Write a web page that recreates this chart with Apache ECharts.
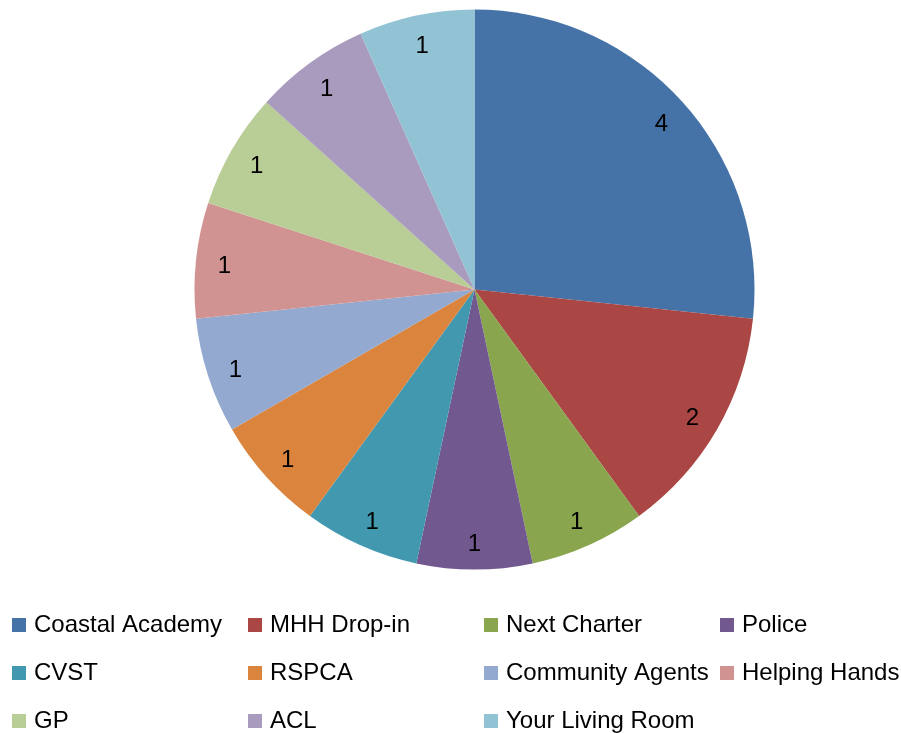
<!DOCTYPE html>
<html>
<head>
<meta charset="utf-8">
<script src="https://cdn.jsdelivr.net/npm/echarts@6/dist/echarts.min.js"></script>
<style>
  html, body { margin: 0; padding: 0; background: #fff; }
  #chart { width: 901px; height: 733px; }
</style>
</head>
<body>
<div id="chart"></div>
<script>
// Referral sources and counts
const categories = [
  'Coastal Academy', 'MHH Drop-in', 'Next Charter', 'Police', 'CVST', 'RSPCA',
  'Community Agents', 'Helping Hands', 'GP', 'ACL', 'Your Living Room'
];
const counts = [4, 2, 1, 1, 1, 1, 1, 1, 1, 1, 1];
const colors = [
  '#4572A7', '#AA4643', '#89A54E', '#71588F', '#4198AF', '#DB843D',
  '#93A9CF', '#D19392', '#B9CD96', '#A99BBD', '#92C3D4'
];

const FONT = '"Liberation Sans", Arial, sans-serif';
const cx = 474.5, cy = 289.5, R = 280;

const data = categories.map((name, i) => ({
  name, value: counts[i], itemStyle: { color: colors[i] }
}));

// Legend laid out as a 4-column grid; each column is its own vertical legend
const colX = [12, 248, 484, 720];
const legends = colX.map((x, c) => ({
  orient: 'vertical',
  left: x,
  top: 613,
  width: 200,
  height: 120,
  padding: 0,
  itemWidth: 14,
  itemHeight: 14,
  itemGap: 24,
  icon: 'rect',
  selectedMode: false,
  data: categories.filter((_, i) => i % 4 === c),
  textStyle: { fontFamily: FONT, fontSize: 24, lineHeight: 24, color: '#000', padding: [0, 0, 0, 3] }
}));

const chart = echarts.init(document.getElementById('chart'), null, { renderer: 'canvas' });
chart.setOption({
  animation: false,
  backgroundColor: '#fff',
  legend: legends,
  series: [
    {
      type: 'pie',
      center: [cx, cy],
      radius: [0, R],
      startAngle: 90,
      clockwise: true,
      label: { show: false },
      labelLine: { show: false },
      emphasis: { disabled: true },
      itemStyle: { borderWidth: 0 },
      data
    },
    {
      // transparent ring that carries the value labels
      type: 'pie',
      center: [cx, cy],
      radius: [217, R],
      startAngle: 90,
      clockwise: true,
      silent: true,
      emphasis: { disabled: true },
      label: {
        show: true,
        position: 'inside',
        formatter: '{c}',
        fontFamily: FONT,
        fontSize: 24,
        color: '#000',
        offset: [0, 3]
      },
      labelLine: { show: false },
      data: categories.map((name, i) => ({ name, value: counts[i], itemStyle: { color: 'rgba(0,0,0,0)' } }))
    }
  ]
});
</script>
</body>
</html>
